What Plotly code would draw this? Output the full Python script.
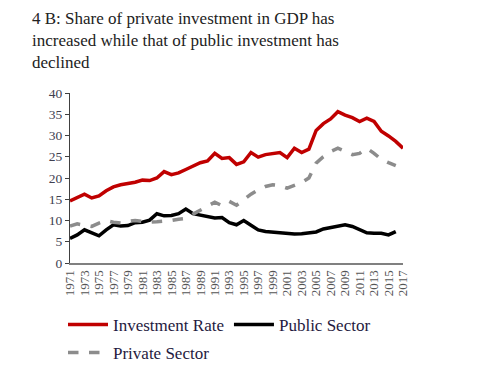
import plotly.graph_objects as go

years = list(range(1971, 2018))
year_labels = [str(y) for y in years]

investment_rate = [14.6, 15.5, 16.2, 15.3, 15.8, 17.0, 17.9, 18.4, 18.6, 19.0,
                   19.5, 19.4, 20.0, 21.5, 20.8, 21.2, 22.0, 22.9, 23.6, 24.0,
                   25.8, 24.6, 24.8, 23.2, 23.8, 26.0, 24.9, 25.5, 25.8, 26.0,
                   24.8, 27.0, 26.0, 26.8, 31.2, 32.8, 33.9, 35.6, 34.8, 34.2,
                   33.3, 34.1, 33.3, 31.0, 29.9, 28.6, 27.0]

public_sector = [5.8, 6.6, 7.8, 7.0, 6.4, 7.8, 9.0, 8.7, 8.8, 9.5,
                 9.6, 10.1, 11.6, 11.1, 11.2, 11.6, 12.7, 11.6, 11.3, 10.9,
                 10.6, 10.7, 9.5, 9.0, 10.0, 8.9, 7.8, 7.4, 7.2, 7.0,
                 6.9, 6.8, 6.9, 7.0, 7.3, 8.0, 8.4, 8.6, 9.0, 8.6,
                 7.9, 7.1, 7.0, 7.0, 6.6, 7.4, None]

private_sector = [8.7, 9.2, 8.9, 8.6, 9.4, 10.0, 9.6, 9.4, 9.8, 10.0,
                  9.8, 9.6, 9.7, 9.8, 10.0, 10.3, 10.5, 11.5, 12.4, 13.5,
                  14.3, 13.5, 14.5, 13.6, 15.0, 16.2, 17.2, 18.0, 18.4, 18.2,
                  17.6, 18.3, 18.9, 20.0, 23.5, 25.0, 26.2, 27.0, 26.2, 25.5,
                  25.8, 27.0, 25.8, 24.4, 23.6, 22.9, None]

y_ticks = [0, 5, 10, 15, 20, 25, 30, 35, 40]
x_tick_labels = [str(y) for y in range(1971, 2018, 2)]

title_text = ("4 B: Share of private investment in GDP has<br>"
              "increased while that of public investment has<br>declined")

serif = "Liberation Serif, Times New Roman, serif"

# page body has an 8px default margin, so the figure is drawn 8px smaller
OFF = 8
W, H = 492 - OFF, 383 - OFF
L, T = 70 - OFF, 93 - OFF
pw, ph = 333, 170
R, B = W - L - pw, H - T - ph

fig = go.Figure()
fig.add_trace(go.Scatter(x=year_labels, y=investment_rate, mode="lines",
                         name="Investment Rate", legend="legend",
                         line=dict(color="#C00000", width=3.5)))
fig.add_trace(go.Scatter(x=year_labels, y=public_sector, mode="lines",
                         name="Public Sector", legend="legend",
                         line=dict(color="#000000", width=3.5)))
fig.add_trace(go.Scatter(x=year_labels, y=private_sector, mode="lines",
                         name="Private Sector", legend="legend2",
                         line=dict(color="#8C8C8C", width=3.5, dash="dash")))

legend_font = dict(family=serif, size=17, color="#1F1A40")


def px_x(x):
    return (x - OFF - L) / pw


def px_y(y):
    return 1 - (y - OFF - T) / ph


fig.update_layout(
    width=W, height=H,
    margin=dict(l=L, r=R, t=T, b=B, autoexpand=False),
    paper_bgcolor="white", plot_bgcolor="white",
    font=dict(family=serif, color="#333333"),
    showlegend=True,
    legend=dict(orientation="h", x=px_x(63), xanchor="left",
                y=px_y(307), yanchor="top",
                font=legend_font, itemwidth=40,
                bgcolor="rgba(0,0,0,0)"),
    legend2=dict(orientation="h", x=px_x(63), xanchor="left",
                 y=px_y(335), yanchor="top",
                 font=legend_font, itemwidth=40,
                 bgcolor="rgba(0,0,0,0)"),
    annotations=[dict(text=title_text, xref="paper", yref="paper",
                      x=px_x(31), xanchor="left",
                      y=px_y(8), yanchor="top", borderpad=0,
                      align="left", showarrow=False,
                      font=dict(family=serif, size=17, color="#222222"))],
    xaxis=dict(type="category", tickmode="array", tickvals=x_tick_labels,
               ticktext=x_tick_labels, tickangle=-90,
               tickfont=dict(family=serif, size=13, color="#555555"),
               showline=True, linecolor="#808080", linewidth=2,
               showgrid=False, ticks="", zeroline=False),
    yaxis=dict(range=[0, 40], tickvals=y_ticks,
               tickfont=dict(family=serif, size=13.5, color="#404050"),
               showline=True, linecolor="#404040", linewidth=1,
               ticks="outside", ticklen=4, tickcolor="#404040",
               showgrid=False, zeroline=False),
)

fig.write_html("out.html")
